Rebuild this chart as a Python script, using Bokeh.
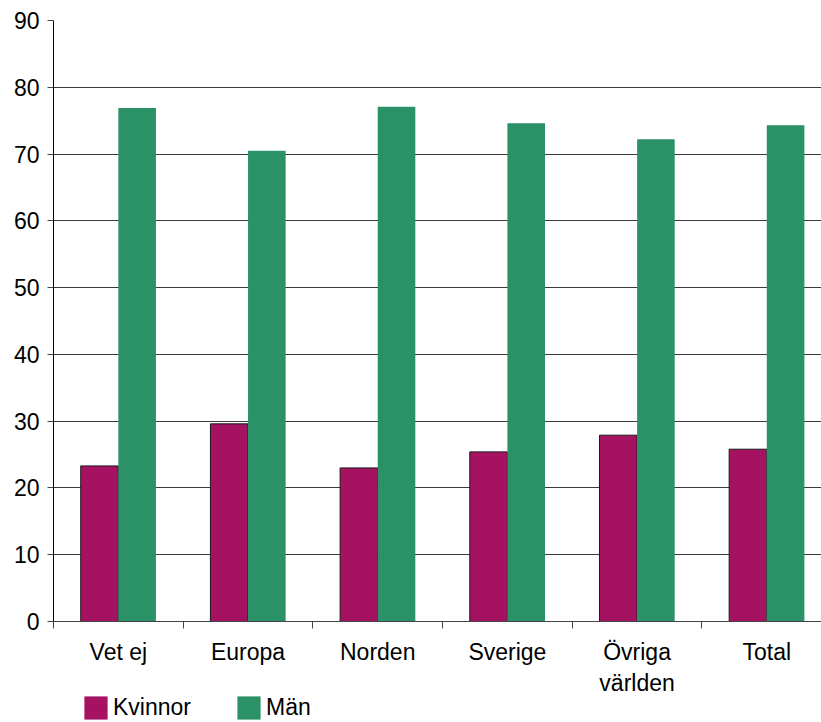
from bokeh.plotting import figure
from bokeh.layouts import column
from bokeh.models import ColumnDataSource, Range1d, FixedTicker, Legend, LegendItem
from bokeh.transform import dodge
from bokeh.embed import file_html
from bokeh.resources import INLINE

# Andel kvinnor och män per ursprung (procent)
categories = ["Vet ej", "Europa", "Norden", "Sverige", "Övriga\nvärlden", "Total"]
kvinnor = [23.3, 29.6, 23.0, 25.4, 27.9, 25.8]
man = [76.9, 70.5, 77.1, 74.6, 72.2, 74.3]
y_ticks = [0, 10, 20, 30, 40, 50, 60, 70, 80, 90]
series = ["Kvinnor", "Män"]

KVINNOR_COLOR = "#A51262"
MAN_COLOR = "#2B9268"
FONT = "Liberation Sans"
FONT_SIZE = "23px"
BAR_W = 0.29

centers = [i + 0.5 for i in range(len(categories))]
source = ColumnDataSource(dict(x=centers, kvinnor=kvinnor, man=man))

p = figure(
    width=821, height=698,
    x_range=Range1d(0, 5.922), y_range=Range1d(0, 90),
    output_backend="svg", toolbar_location=None,
    min_border_left=53, min_border_right=0, min_border_top=20, min_border_bottom=77,
)
p.outline_line_color = None
p.background_fill_color = "white"

p.vbar(x=dodge("x", -BAR_W / 2), top="kvinnor", width=BAR_W, source=source,
       fill_color=KVINNOR_COLOR, line_color="#1a1a1a", line_width=1)
p.vbar(x=dodge("x", BAR_W / 2), top="man", width=BAR_W, source=source,
       fill_color=MAN_COLOR, line_color=None)

# x axis: labels at group centres, tick marks at group boundaries
p.xaxis.ticker = FixedTicker(ticks=centers, minor_ticks=list(range(len(categories) + 1)))
p.xaxis.major_label_overrides = {c: lab for c, lab in zip(centers, categories)}
p.xaxis.major_tick_out = 0
p.xaxis.major_tick_in = 0
p.xaxis.minor_tick_out = 7
p.xaxis.minor_tick_in = 0
p.xaxis.minor_tick_line_color = "#444444"
p.xaxis.axis_line_color = "#444444"
p.xaxis.major_label_standoff = 10
p.xaxis.major_label_text_font = FONT
p.xaxis.major_label_text_font_size = FONT_SIZE
p.xaxis.major_label_text_color = "black"

# y axis
p.yaxis.ticker = FixedTicker(ticks=y_ticks)
p.yaxis.major_tick_out = 6
p.yaxis.major_tick_in = 0
p.yaxis.minor_tick_line_color = None
p.yaxis.axis_line_color = "black"
p.yaxis.major_tick_line_color = "#444444"
p.yaxis.major_label_standoff = 8
p.yaxis.major_label_text_font = FONT
p.yaxis.major_label_text_font_size = FONT_SIZE
p.yaxis.major_label_text_color = "black"

p.xgrid.grid_line_color = None
p.ygrid.ticker = FixedTicker(ticks=y_ticks)
p.ygrid.grid_line_color = "#3a3a3a"
p.ygrid.grid_line_width = 1

# legend strip underneath the chart, pulled up into the axis margin
leg = figure(
    width=821, height=32, x_range=Range1d(0, 1), y_range=Range1d(0, 1),
    output_backend="svg", toolbar_location=None,
    x_axis_location=None, y_axis_location=None,
    min_border=0, outline_line_color=None, margin=(-8, 0, 0, 0),
)
leg.grid.visible = False
leg.background_fill_alpha = 0
leg.border_fill_alpha = 0
swatch_k = leg.vbar(x=[-10], top=[-10], width=0.1, fill_color=KVINNOR_COLOR, line_color=None)
swatch_m = leg.vbar(x=[-10], top=[-10], width=0.1, fill_color=MAN_COLOR, line_color=None)
legend = Legend(
    items=[LegendItem(label=series[0], renderers=[swatch_k]),
           LegendItem(label=series[1], renderers=[swatch_m])],
    orientation="horizontal", location=(28, 0),
    glyph_width=29, glyph_height=29, label_standoff=3, spacing=43,
    padding=0, margin=0, border_line_color=None, background_fill_alpha=0,
    label_text_font=FONT, label_text_font_size=FONT_SIZE, label_text_color="black",
    label_height=29,
)
leg.add_layout(legend, "center")

layout = column(p, leg, spacing=0)
open("out.html", "w").write(file_html(layout, INLINE))
